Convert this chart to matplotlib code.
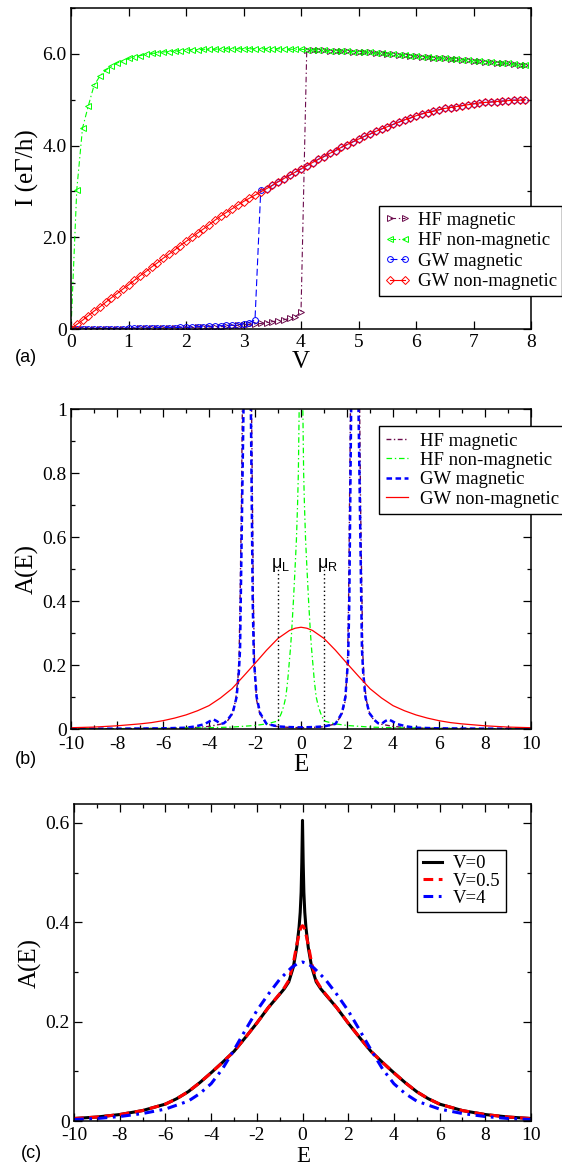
import matplotlib
matplotlib.use('Agg')
import matplotlib.pyplot as plt
from matplotlib.ticker import MultipleLocator, FixedLocator, FixedFormatter

plt.rcParams['font.family'] = ['Liberation Serif', 'DejaVu Serif']
plt.rcParams['axes.unicode_minus'] = False
plt.rcParams['lines.scale_dashes'] = False
plt.rcParams['mathtext.fontset'] = 'custom'
plt.rcParams['mathtext.rm'] = 'Liberation Sans'
plt.rcParams['mathtext.it'] = 'Liberation Sans:italic'

# ---------------- panel (a) data ----------------
V = [0.0, 0.1, 0.2, 0.3, 0.4, 0.5, 0.6, 0.7, 0.8, 0.9,
     1.0, 1.1, 1.2, 1.3, 1.4, 1.5, 1.6, 1.7, 1.8, 1.9,
     2.0, 2.1, 2.2, 2.3, 2.4, 2.5, 2.6, 2.7, 2.8, 2.9,
     3.0, 3.1, 3.2, 3.3, 3.4, 3.5, 3.6, 3.7, 3.8, 3.9,
     4.0, 4.1, 4.2, 4.3, 4.4, 4.5, 4.6, 4.7, 4.8, 4.9,
     5.0, 5.1, 5.2, 5.3, 5.4, 5.5, 5.6, 5.7, 5.8, 5.9,
     6.0, 6.1, 6.2, 6.3, 6.4, 6.5, 6.6, 6.7, 6.8, 6.9,
     7.0, 7.1, 7.2, 7.3, 7.4, 7.5, 7.6, 7.7, 7.8, 7.9]

I_hf_nonmag = [0.00, 3.03, 4.38, 4.86, 5.31, 5.51, 5.64, 5.73, 5.80, 5.85,
               5.90, 5.93, 5.96, 5.99, 6.01, 6.02, 6.04, 6.05, 6.06, 6.07,
               6.08, 6.09, 6.09, 6.10, 6.10, 6.10, 6.11, 6.11, 6.11, 6.11,
               6.11, 6.11, 6.11, 6.11, 6.11, 6.11, 6.11, 6.11, 6.10, 6.10,
               6.10, 6.09, 6.09, 6.08, 6.08, 6.07, 6.07, 6.06, 6.06, 6.05,
               6.05, 6.04, 6.03, 6.02, 6.01, 6.00, 5.99, 5.98, 5.97, 5.96,
               5.95, 5.94, 5.93, 5.92, 5.91, 5.90, 5.89, 5.88, 5.87, 5.86,
               5.85, 5.84, 5.83, 5.82, 5.81, 5.80, 5.79, 5.78, 5.76, 5.75]

I_hf_mag = [0.00, 0.00, 0.00, 0.00, 0.00, 0.01, 0.01, 0.01, 0.01, 0.01,
            0.01, 0.01, 0.02, 0.02, 0.02, 0.02, 0.02, 0.02, 0.03, 0.03,
            0.03, 0.03, 0.04, 0.04, 0.04, 0.05, 0.05, 0.06, 0.07, 0.08,
            0.09, 0.10, 0.11, 0.12, 0.14, 0.16, 0.18, 0.20, 0.23, 0.27,
            0.36, 6.09, 6.09, 6.08, 6.08, 6.07, 6.07, 6.06, 6.06, 6.05,
            6.05, 6.04, 6.03, 6.02, 6.01, 6.00, 5.99, 5.98, 5.97, 5.96,
            5.95, 5.94, 5.93, 5.92, 5.91, 5.90, 5.89, 5.88, 5.87, 5.86,
            5.85, 5.84, 5.83, 5.82, 5.81, 5.80, 5.79, 5.78, 5.76, 5.75]

I_gw_nonmag = [0.00, 0.10, 0.19, 0.29, 0.39, 0.48, 0.58, 0.68, 0.77, 0.87,
               0.96, 1.06, 1.16, 1.25, 1.35, 1.44, 1.54, 1.63, 1.72, 1.82,
               1.91, 2.00, 2.09, 2.18, 2.27, 2.37, 2.46, 2.54, 2.62, 2.70,
               2.78, 2.85, 2.92, 2.99, 3.06, 3.13, 3.21, 3.28, 3.35, 3.42,
               3.49, 3.56, 3.63, 3.70, 3.76, 3.83, 3.89, 3.96, 4.02, 4.08,
               4.14, 4.20, 4.25, 4.31, 4.36, 4.41, 4.46, 4.51, 4.56, 4.60,
               4.65, 4.69, 4.72, 4.75, 4.78, 4.81, 4.83, 4.85, 4.87, 4.89,
               4.91, 4.93, 4.94, 4.95, 4.96, 4.97, 4.98, 4.99, 4.99, 5.00]

I_gw_mag = [0.00, 0.00, 0.00, 0.00, 0.01, 0.01, 0.01, 0.01, 0.01, 0.01,
            0.02, 0.02, 0.02, 0.02, 0.02, 0.03, 0.03, 0.03, 0.03, 0.04,
            0.04, 0.04, 0.05, 0.05, 0.06, 0.06, 0.07, 0.08, 0.08, 0.09,
            0.11, 0.14, 0.20, 3.03, 3.06, 3.13, 3.21, 3.28, 3.35, 3.42,
            3.49, 3.56, 3.63, 3.70, 3.76, 3.83, 3.89, 3.96, 4.02, 4.08,
            4.14, 4.20, 4.25, 4.31, 4.36, 4.41, 4.46, 4.51, 4.56, 4.60,
            4.65, 4.69, 4.72, 4.75, 4.78, 4.81, 4.83, 4.85, 4.87, 4.89,
            4.91, 4.93, 4.94, 4.95, 4.96, 4.97, 4.98, 4.99, 4.99, 5.00]

labels_ab = ['HF magnetic', 'HF non-magnetic', 'GW magnetic', 'GW non-magnetic']
ytick_a = [0, 2, 4, 6]
ytick_a_labels = ['0', '2.0', '4.0', '6.0']

# ---------------- panel (b) data ----------------
E_b_red = [-10, -9.5, -9, -8.5, -8, -7.5, -7, -6.5, -6, -5.5, -5, -4.5, -4, -3.5, -3,
           -2.5, -2, -1.5, -1, -0.5, -0.25, 0, 0.25, 0.5, 1, 1.5, 2, 2.5, 3, 3.5, 4,
           4.5, 5, 5.5, 6, 6.5, 7, 7.5, 8, 8.5, 9, 9.5, 10]
A_b_red = [0.004, 0.005, 0.006, 0.008, 0.010, 0.013, 0.016, 0.020, 0.026, 0.034, 0.044,
           0.057, 0.073, 0.097, 0.126, 0.165, 0.205, 0.246, 0.283, 0.308, 0.315, 0.318,
           0.315, 0.308, 0.283, 0.246, 0.205, 0.165, 0.126, 0.097, 0.073, 0.057, 0.044,
           0.034, 0.026, 0.020, 0.016, 0.013, 0.010, 0.008, 0.006, 0.005, 0.004]

E_b_green = [-10, -8, -6, -4, -3, -2, -1.5, -1.0, -0.85, -0.75, -0.66, -0.58, -0.52, -0.46,
             -0.41, -0.33, -0.26, -0.2, -0.15, -0.115, -0.08, -0.04, 0,
             0.04, 0.08, 0.115, 0.15, 0.2, 0.26, 0.33, 0.41, 0.46, 0.52, 0.58, 0.66, 0.75,
             0.85, 1.0, 1.5, 2, 3, 4, 6, 8, 10]
A_b_green = [0.001, 0.001, 0.002, 0.004, 0.006, 0.011, 0.016, 0.025, 0.05, 0.072, 0.10, 0.15,
             0.20, 0.25, 0.30, 0.40, 0.50, 0.59, 0.70, 0.80, 1.0, 1.5, 2.0,
             1.5, 1.0, 0.80, 0.70, 0.59, 0.50, 0.40, 0.30, 0.25, 0.20, 0.15, 0.10, 0.072,
             0.05, 0.025, 0.016, 0.011, 0.006, 0.004, 0.002, 0.001, 0.001]

E_b_blue = [-10, -8, -6, -5, -4.6, -4.2, -3.95, -3.8, -3.65, -3.5, -3.35, -3.2, -2.97, -2.80,
            -2.70, -2.65, -2.60, -2.55, -2.50, -2.46, -2.40, -2.34, -2.28, -2.22, -2.18,
            -2.14, -2.10, -2.05, -1.93, -1.78, -1.5, -1.0, -0.5, 0,
            0.5, 1.0, 1.5, 1.78, 1.93, 2.05, 2.10, 2.14, 2.18, 2.22, 2.28, 2.34, 2.40,
            2.46, 2.50, 2.55, 2.60, 2.65, 2.70, 2.80, 2.97, 3.2, 3.35, 3.5, 3.65, 3.8,
            3.95, 4.2, 4.6, 5, 6, 8, 10]
A_b_blue = [0.001, 0.001, 0.002, 0.004, 0.008, 0.015, 0.025, 0.030, 0.024, 0.016, 0.018,
            0.028, 0.05, 0.10, 0.18, 0.25, 0.5, 0.75, 1.0, 1.2, 1.6, 2.0, 1.6, 1.2, 1.0,
            0.7, 0.4, 0.22, 0.10, 0.05, 0.016, 0.008, 0.006, 0.005,
            0.006, 0.008, 0.016, 0.05, 0.10, 0.22, 0.4, 0.7, 1.0, 1.2, 1.6, 2.0, 1.6,
            1.2, 1.0, 0.75, 0.5, 0.25, 0.18, 0.10, 0.05, 0.028, 0.018, 0.016, 0.024, 0.030,
            0.025, 0.015, 0.008, 0.004, 0.002, 0.001, 0.001]

E_b_maroon = [-10, -8, -6, -5, -4.5, -4, -3.5, -3.2, -3.0, -2.84, -2.74, -2.69, -2.64, -2.59,
              -2.55, -2.50, -2.42, -2.34, -2.26, -2.19, -2.15, -2.11, -2.07, -2.02, -1.93,
              -1.78, -1.5, -1.0, -0.5, 0,
              0.5, 1.0, 1.5, 1.78, 1.93, 2.02, 2.07, 2.11, 2.15, 2.19, 2.26, 2.34, 2.42,
              2.50, 2.55, 2.59, 2.64, 2.69, 2.74, 2.84, 3.0, 3.2, 3.5, 4, 4.5, 5, 6, 8, 10]
A_b_maroon = [0.0005, 0.001, 0.002, 0.003, 0.005, 0.008, 0.015, 0.025, 0.045, 0.09, 0.16,
              0.23, 0.45, 0.7, 1.0, 1.2, 1.7, 2.2, 1.7, 1.2, 1.0, 0.7, 0.4, 0.2, 0.09,
              0.045, 0.016, 0.007, 0.005, 0.004,
              0.005, 0.007, 0.016, 0.045, 0.09, 0.2, 0.4, 0.7, 1.0, 1.2, 1.7, 2.2, 1.7,
              1.2, 1.0, 0.7, 0.45, 0.23, 0.16, 0.09, 0.045, 0.025, 0.015, 0.008, 0.005,
              0.003, 0.002, 0.001, 0.0005]

mu_pos = [-1.0, 1.0]
mu_top = 0.5
mu_labels = [r'$\mathrm{\mu}_\mathrm{L}$', r'$\mathrm{\mu}_\mathrm{R}$']

# ---------------- panel (c) data ----------------
E_c = [-10, -9, -8, -7, -6, -5.5, -5, -4.5, -4, -3.5, -3, -2.5, -2, -1.5, -1, -0.8, -0.6,
       -0.4, -0.25, -0.15, -0.1, -0.06, -0.03, 0, 0.03, 0.06, 0.1, 0.15, 0.25, 0.4, 0.6,
       0.8, 1, 1.5, 2, 2.5, 3, 3.5, 4, 4.5, 5, 5.5, 6, 7, 8, 9, 10]
A_c_V0 = [0.005, 0.008, 0.013, 0.021, 0.034, 0.045, 0.059, 0.077, 0.097, 0.118, 0.140,
          0.168, 0.197, 0.228, 0.255, 0.266, 0.280, 0.310, 0.350, 0.390, 0.420, 0.460,
          0.520, 0.605, 0.520, 0.460, 0.420, 0.390, 0.350, 0.310, 0.280, 0.266, 0.255,
          0.228, 0.197, 0.168, 0.140, 0.118, 0.097, 0.077, 0.059, 0.045, 0.034, 0.021,
          0.013, 0.008, 0.005]
A_c_V05 = [0.005, 0.008, 0.013, 0.021, 0.034, 0.045, 0.059, 0.077, 0.097, 0.118, 0.140,
           0.168, 0.197, 0.228, 0.256, 0.268, 0.283, 0.318, 0.355, 0.376, 0.385, 0.390,
           0.392, 0.393, 0.392, 0.390, 0.385, 0.376, 0.355, 0.318, 0.283, 0.268, 0.256,
           0.228, 0.197, 0.168, 0.140, 0.118, 0.097, 0.077, 0.059, 0.045, 0.034, 0.021,
           0.013, 0.008, 0.005]
E_c4 = [-10, -9, -8, -7, -6, -5, -4.5, -4, -3.5, -3, -2.5, -2, -1.5, -1, -0.5, -0.25, 0,
        0.25, 0.5, 1, 1.5, 2, 2.5, 3, 3.5, 4, 4.5, 5, 6, 7, 8, 9, 10]
A_c_V4 = [0.003, 0.005, 0.009, 0.015, 0.024, 0.040, 0.055, 0.075, 0.105, 0.143, 0.183,
          0.222, 0.255, 0.285, 0.308, 0.316, 0.320, 0.316, 0.308, 0.285, 0.255, 0.222,
          0.183, 0.143, 0.105, 0.075, 0.055, 0.040, 0.024, 0.015, 0.009, 0.005, 0.003]
labels_c = ['V=0', 'V=0.5', 'V=4']

# ---------------- colours ----------------
MAROON = '#6b0b4c'
GREEN = '#00ff00'
BLUE = '#0000ff'
RED = '#ff0000'

fig = plt.figure(figsize=(5.62, 11.66), dpi=100)
W, H = 562.0, 1166.0
axa = fig.add_axes([71 / W, 1 - 329 / H, 460 / W, 321 / H])
axb = fig.add_axes([71 / W, 1 - 729 / H, 460 / W, 320 / H])
axc = fig.add_axes([74 / W, 1 - 1121 / H, 457 / W, 317 / H])


def style(ax, xpad=4):
    ax.tick_params(which='both', direction='in', top=True, right=True, width=0.9,
                   labelsize=14, pad=3)
    ax.tick_params(axis='x', which='both', pad=xpad)
    ax.tick_params(which='major', length=5.5)
    ax.tick_params(which='minor', length=3)
    for s in ax.spines.values():
        s.set_linewidth(1.1)


# ---- (a)
lw = 0.8
axa.plot(V, I_hf_mag, color=MAROON, lw=lw, dashes=(4, 2, 1, 2), marker='>', ms=4.8,
         mfc='none', mec=MAROON, mew=0.7, label=labels_ab[0])
axa.plot(V, I_hf_nonmag, color=GREEN, lw=lw, dashes=(4, 2, 1, 2), marker='<', ms=4.8,
         mfc='none', mec=GREEN, mew=0.7, label=labels_ab[1])
axa.plot(V, I_gw_mag, color=BLUE, lw=lw, dashes=(5, 2.5), marker='o', ms=4.2,
         mfc='none', mec=BLUE, mew=0.7, label=labels_ab[2])
axa.plot(V, I_gw_nonmag, color=RED, lw=lw, marker='D', ms=3.6,
         mfc='none', mec=RED, mew=0.7, label=labels_ab[3])
axa.set_xlim(0, 8)
axa.set_ylim(0, 7)
axa.xaxis.set_major_locator(MultipleLocator(1))
axa.yaxis.set_major_locator(FixedLocator(ytick_a))
axa.yaxis.set_major_formatter(FixedFormatter(ytick_a_labels))
axa.yaxis.set_minor_locator(MultipleLocator(1))
style(axa, xpad=3.5)
lga = axa.legend(loc='upper left', bbox_to_anchor=(0.670, 0.383), borderaxespad=0,
                 fontsize=13.5, numpoints=2, handlelength=1.4, handletextpad=0.35,
                 labelspacing=0.18, borderpad=0.3, fancybox=False, framealpha=1,
                 edgecolor='black')
lga.get_frame().set_linewidth(1.0)

# ---- (b)
axb.plot(E_b_maroon, A_b_maroon, color=MAROON, lw=1.0, dashes=(3.5, 1.8, 1, 1.8),
         label=labels_ab[0])
axb.plot(E_b_green, A_b_green, color=GREEN, lw=0.9, dashes=(4, 2, 1, 2), label=labels_ab[1])
axb.plot(E_b_blue, A_b_blue, color=BLUE, lw=1.8, dashes=(4, 2.5), label=labels_ab[2])
axb.plot(E_b_red, A_b_red, color=RED, lw=0.9, label=labels_ab[3])
for x0 in mu_pos:
    axb.plot([x0, x0], [0, mu_top], color='black', lw=1.0, dashes=(1, 2))
axb.text(-0.87, 0.485, mu_labels[0], ha='center', va='bottom', fontsize=13)
axb.text(1.17, 0.485, mu_labels[1], ha='center', va='bottom', fontsize=13)
axb.set_xlim(-10, 10)
axb.set_ylim(0, 1)
axb.xaxis.set_major_locator(MultipleLocator(2))
axb.xaxis.set_minor_locator(MultipleLocator(1))
axb.yaxis.set_major_locator(FixedLocator([0, 0.2, 0.4, 0.6, 0.8, 1.0]))
axb.yaxis.set_major_formatter(FixedFormatter(['0', '0.2', '0.4', '0.6', '0.8', '1']))
axb.yaxis.set_minor_locator(MultipleLocator(0.1))
style(axb, xpad=5)
lgb = axb.legend(loc='upper left', bbox_to_anchor=(0.670, 0.947), borderaxespad=0,
                 fontsize=13.5, handlelength=1.2, handletextpad=0.6,
                 labelspacing=0.12, borderpad=0.35, fancybox=False, framealpha=1,
                 edgecolor='black')
lgb.get_frame().set_linewidth(1.0)

# ---- (c)
axc.plot(E_c, A_c_V0, color='black', lw=2.2, label=labels_c[0])
axc.plot(E_c, A_c_V05, color=RED, lw=2.2, dashes=(7, 4), label=labels_c[1])
axc.plot(E_c4, A_c_V4, color=BLUE, lw=2.2, dashes=(7, 4, 2, 4), label=labels_c[2])
axc.set_xlim(-10, 10)
axc.set_ylim(0, 0.638)
axc.xaxis.set_major_locator(MultipleLocator(2))
axc.xaxis.set_minor_locator(MultipleLocator(1))
axc.yaxis.set_major_locator(FixedLocator([0, 0.2, 0.4, 0.6]))
axc.yaxis.set_major_formatter(FixedFormatter(['0', '0.2', '0.4', '0.6']))
axc.yaxis.set_minor_locator(MultipleLocator(0.1))
style(axc, xpad=4.5)
lgc = axc.legend(loc='upper left', bbox_to_anchor=(0.751, 0.856), borderaxespad=0,
                 fontsize=13.5, handlelength=1.0, handletextpad=0.6,
                 labelspacing=0.0, borderpad=0.3, fancybox=False, framealpha=1,
                 edgecolor='black')
lgc.get_frame().set_linewidth(1.0)

# ---- axis labels & panel tags
serif = ['Liberation Serif', 'DejaVu Serif']
sans = ['Liberation Sans', 'DejaVu Sans']
fig.text(301 / W, 1 - 362 / H, 'V', ha='center', va='center', fontsize=18, family=serif)
fig.text(27 / W, 1 - 168 / H, 'I (e\u0393/h)', ha='center', va='center', fontsize=18,
         rotation=90, family=serif)
fig.text(301 / W, 1 - 765 / H, 'E', ha='center', va='center', fontsize=18, family=serif)
fig.text(27 / W, 1 - 569 / H, 'A(E)', ha='center', va='center', fontsize=18, rotation=90,
         family=serif)
fig.text(303 / W, 1 - 1156 / H, 'E', ha='center', va='center', fontsize=16.5, family=serif)
fig.text(30 / W, 1 - 963 / H, 'A(E)', ha='center', va='center', fontsize=18, rotation=90,
         family=serif)
fig.text(15 / W, 1 - 358 / H, '(a)', ha='left', va='center', fontsize=13, family=sans)
fig.text(15 / W, 1 - 760 / H, '(b)', ha='left', va='center', fontsize=13, family=sans)
fig.text(21 / W, 1 - 1153 / H, '(c)', ha='left', va='center', fontsize=13, family=sans)

fig.savefig('out.png', dpi=100)
